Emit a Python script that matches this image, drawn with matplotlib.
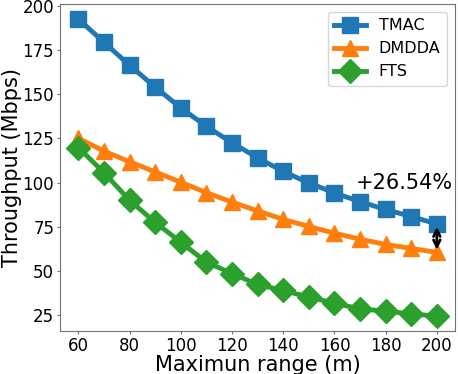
import matplotlib
matplotlib.use('Agg')
import matplotlib.pyplot as plt

# ===== data =====
ranges = [60, 70, 80, 90, 100, 110, 120, 130, 140, 150, 160, 170, 180, 190, 200]
tmac = [192.5, 179.3, 166.3, 154.0, 142.2, 131.8, 122.5, 114.0, 106.3, 99.8, 94.2, 89.2, 84.8, 80.8, 76.6]
dmdda = [125.0, 117.8, 111.8, 106.0, 100.2, 94.3, 89.0, 84.0, 79.2, 75.2, 71.4, 68.0, 65.0, 62.8, 60.5]
fts = [119.8, 105.6, 90.0, 77.5, 66.3, 55.0, 48.6, 42.4, 39.0, 35.3, 31.8, 28.6, 27.3, 25.8, 24.5]
gain_text = '+26.54%'

fig = plt.figure(figsize=(4.58, 3.74), dpi=100)
ax = fig.add_axes([0.132, 0.115, 0.861, 0.874])

ax.plot(ranges, tmac, marker='s', markersize=12, linewidth=3.5, color='tab:blue', label='TMAC')
ax.plot(ranges, dmdda, marker='^', markersize=12, linewidth=3.5, color='tab:orange', label='DMDDA')
ax.plot(ranges, fts, marker='D', markersize=12, linewidth=3.5, color='tab:green', label='FTS')

# gap between TMAC and DMDDA at the last point
ax.annotate('', xy=(ranges[-1], dmdda[-1]), xytext=(ranges[-1], tmac[-1]),
            arrowprops=dict(arrowstyle='<->', color='black', lw=2, mutation_scale=12), zorder=10)
ax.text(168.5, 100, gain_text, fontsize=15, ha='left', va='center')

ax.set_xticks([60, 80, 100, 120, 140, 160, 180, 200])
ax.set_yticks([25, 50, 75, 100, 125, 150, 175, 200])
ax.tick_params(labelsize=12, length=2.5, pad=2, color='0.45')
ax.set_xlabel('Maximun range (m)', fontsize=15, labelpad=0)
ax.set_ylabel('Throughput (Mbps)', fontsize=15, labelpad=0)
for s in ax.spines.values():
    s.set_color('0.45')

ax.legend(loc='upper right', fontsize=11.5)

fig.savefig('out.png', dpi=100)
